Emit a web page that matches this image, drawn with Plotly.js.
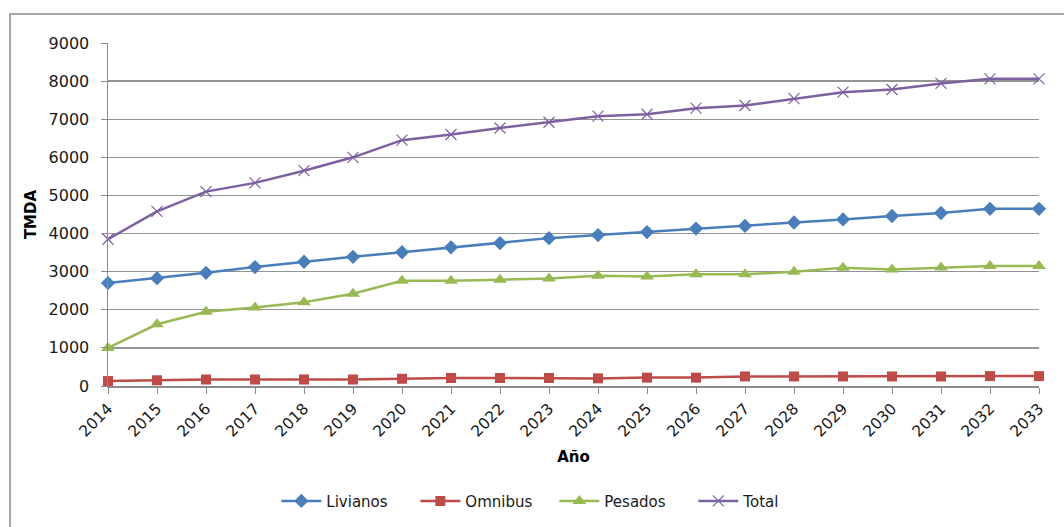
<!DOCTYPE html>
<html>
<head>
<meta charset="utf-8">
<script src="https://cdn.plot.ly/plotly-3.0.1.min.js"></script>
<style>
  html, body { margin: 0; padding: 0; background: #fff; }
  #wrap { position: relative; width: 1064px; height: 527px; overflow: hidden; }
  #chart { position: absolute; left: 0; top: 0; width: 1064px; height: 527px; }
  #frame { position: absolute; left: 9px; top: 13px; width: 1100px; height: 600px;
           border-left: 2px solid #a6a6a6; border-top: 2px solid #a6a6a6; pointer-events: none; }
</style>
</head>
<body>
<div id="wrap">
  <div id="chart"></div>
  <div id="frame"></div>
</div>
<script>
const years = [2014, 2015, 2016, 2017, 2018, 2019, 2020, 2021, 2022, 2023,
               2024, 2025, 2026, 2027, 2028, 2029, 2030, 2031, 2032, 2033];
const livianos = [2700, 2830, 2970, 3120, 3260, 3390, 3510, 3640, 3750, 3880,
                  3960, 4040, 4130, 4200, 4290, 4370, 4460, 4540, 4650, 4650];
const omnibus = [130, 150, 170, 170, 170, 170, 190, 210, 210, 210,
                 200, 220, 220, 250, 250, 250, 250, 250, 260, 260];
const pesados = [1000, 1620, 1950, 2060, 2200, 2420, 2760, 2760, 2790, 2820,
                 2890, 2870, 2930, 2930, 3000, 3100, 3060, 3110, 3150, 3150];
const total = [3850, 4580, 5100, 5330, 5650, 6000, 6450, 6600, 6770, 6920,
               7080, 7130, 7290, 7360, 7540, 7710, 7780, 7940, 8060, 8060];
const seriesNames = ['Livianos', 'Omnibus', 'Pesados', 'Total'];
const yTicks = [0, 1000, 2000, 3000, 4000, 5000, 6000, 7000, 8000, 9000];

const FONT = 'DejaVu Sans, Verdana, sans-serif';
const colors = ['#4A7EBB', '#BE4B48', '#98B954', '#7D60A0'];
const symbols = ['diamond', 'square', 'triangle-up', 'x-thin'];
const sizes = [11, 10, 12, 11];
const data = [livianos, omnibus, pesados, total];

const traces = data.map((ys, i) => ({
  type: 'scatter',
  mode: 'lines+markers',
  name: seriesNames[i],
  x: years,
  y: ys,
  cliponaxis: false,
  line: { color: colors[i], width: 2.5 },
  marker: {
    symbol: symbols[i], size: sizes[i], color: colors[i],
    line: { color: colors[i], width: i === 3 ? 1.2 : 0 }
  }
}));

const layout = {
  width: 1064, height: 527,
  margin: { l: 108, r: 25, t: 43, b: 141 },
  paper_bgcolor: '#ffffff', plot_bgcolor: '#ffffff',
  font: { family: FONT, size: 15, color: '#1a1a1a' },
  showlegend: true,
  legend: {
    orientation: 'h', xref: 'container', yref: 'container',
    x: 0.521, xanchor: 'center', y: 0.049, yanchor: 'middle',
    font: { family: FONT, size: 15, color: '#1a1a1a' },
    itemwidth: 40, entrywidth: 84, tracegroupgap: 0
  },
  xaxis: {
    type: 'linear', range: [2014, 2033],
    tickvals: years, ticktext: years.map(String),
    tickangle: -45, ticks: 'outside', ticklen: 6, tickcolor: '#8c8c8c',
    showline: true, linecolor: '#8c8c8c', linewidth: 1.5,
    showgrid: false, zeroline: false,
    tickfont: { family: FONT, size: 15.5, color: '#1a1a1a' },
    title: { text: '<b>Año</b>', font: { family: FONT, size: 15, color: '#000' }, standoff: 12 }
  },
  yaxis: {
    range: [0, 9000], tickvals: yTicks,
    ticks: 'outside', ticklen: 6, tickcolor: '#8c8c8c',
    showline: true, linecolor: '#8c8c8c', linewidth: 1.5,
    showgrid: true, gridcolor: '#949494', gridwidth: 1.3,
    zeroline: false, ticklabelstandoff: 8,
    tickfont: { family: FONT, size: 16, color: '#1a1a1a' },
    title: { text: '<b>TMDA</b>', font: { family: FONT, size: 15, color: '#000' }, standoff: 8 }
  }
};

Plotly.newPlot('chart', traces, layout, { displayModeBar: false, staticPlot: true });
</script>
</body>
</html>
